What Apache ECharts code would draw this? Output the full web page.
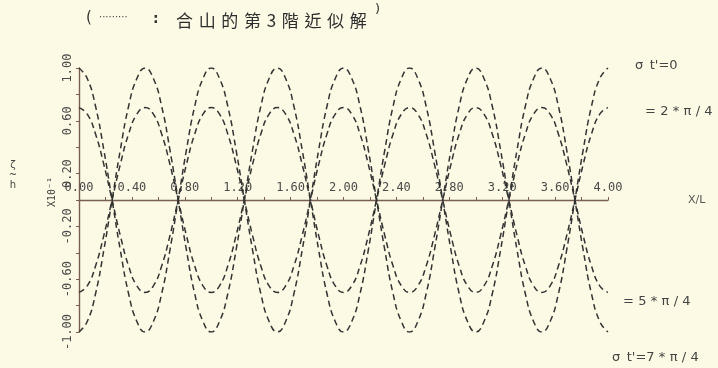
<!DOCTYPE html>
<html>
<head>
<meta charset="utf-8">
<script src="https://cdn.jsdelivr.net/npm/echarts@6/dist/echarts.min.js"></script>
<style>
html,body{margin:0;padding:0;background:#fcf9e4;}
#c{width:718px;height:368px;}
</style>
</head>
<body>
<div id="c"></div>
<script>
// x/L positions
const xs = [0,0.0625,0.125,0.1875,0.25,0.3125,0.375,0.4375,0.5,0.5625,0.625,0.6875,0.75,0.8125,0.875,0.9375,
1,1.0625,1.125,1.1875,1.25,1.3125,1.375,1.4375,1.5,1.5625,1.625,1.6875,1.75,1.8125,1.875,1.9375,
2,2.0625,2.125,2.1875,2.25,2.3125,2.375,2.4375,2.5,2.5625,2.625,2.6875,2.75,2.8125,2.875,2.9375,
3,3.0625,3.125,3.1875,3.25,3.3125,3.375,3.4375,3.5,3.5625,3.625,3.6875,3.75,3.8125,3.875,3.9375,4];

// zeta/h (x10^-1)
const sig0 = [1,0.92,0.71,0.38,0,-0.38,-0.71,-0.92,-1,-0.92,-0.71,-0.38,0,0.38,0.71,0.92,
1,0.92,0.71,0.38,0,-0.38,-0.71,-0.92,-1,-0.92,-0.71,-0.38,0,0.38,0.71,0.92,
1,0.92,0.71,0.38,0,-0.38,-0.71,-0.92,-1,-0.92,-0.71,-0.38,0,0.38,0.71,0.92,
1,0.92,0.71,0.38,0,-0.38,-0.71,-0.92,-1,-0.92,-0.71,-0.38,0,0.38,0.71,0.92,1];
const sig2 = [0.7,0.65,0.5,0.27,0,-0.27,-0.5,-0.65,-0.7,-0.65,-0.5,-0.27,0,0.27,0.5,0.65,
0.7,0.65,0.5,0.27,0,-0.27,-0.5,-0.65,-0.7,-0.65,-0.5,-0.27,0,0.27,0.5,0.65,
0.7,0.65,0.5,0.27,0,-0.27,-0.5,-0.65,-0.7,-0.65,-0.5,-0.27,0,0.27,0.5,0.65,
0.7,0.65,0.5,0.27,0,-0.27,-0.5,-0.65,-0.7,-0.65,-0.5,-0.27,0,0.27,0.5,0.65,0.7];
const sig5 = [-0.7,-0.65,-0.5,-0.27,0,0.27,0.5,0.65,0.7,0.65,0.5,0.27,0,-0.27,-0.5,-0.65,
-0.7,-0.65,-0.5,-0.27,0,0.27,0.5,0.65,0.7,0.65,0.5,0.27,0,-0.27,-0.5,-0.65,
-0.7,-0.65,-0.5,-0.27,0,0.27,0.5,0.65,0.7,0.65,0.5,0.27,0,-0.27,-0.5,-0.65,
-0.7,-0.65,-0.5,-0.27,0,0.27,0.5,0.65,0.7,0.65,0.5,0.27,0,-0.27,-0.5,-0.65,-0.7];
const sig7 = [-1,-0.92,-0.71,-0.38,0,0.38,0.71,0.92,1,0.92,0.71,0.38,0,-0.38,-0.71,-0.92,
-1,-0.92,-0.71,-0.38,0,0.38,0.71,0.92,1,0.92,0.71,0.38,0,-0.38,-0.71,-0.92,
-1,-0.92,-0.71,-0.38,0,0.38,0.71,0.92,1,0.92,0.71,0.38,0,-0.38,-0.71,-0.92,
-1,-0.92,-0.71,-0.38,0,0.38,0.71,0.92,1,0.92,0.71,0.38,0,-0.38,-0.71,-0.92,-1];

const xLabelValues = [0,0.4,0.8,1.2,1.6,2.0,2.4,2.8,3.2,3.6,4.0];
const xTickValues = [0,0.2,0.4,0.6,0.8,1.0,1.2,1.4,1.6,1.8,2.0,2.2,2.4,2.6,2.8,3.0,3.2,3.4,3.6,3.8,4.0];
const yLabelValues = [-1.0,-0.6,-0.2,0.2,0.6,1.0];
const yTickValues = [-1.0,-0.8,-0.6,-0.4,-0.2,0,0.2,0.4,0.6,0.8,1.0];

const seriesNames = ["σt'=0", "=2*π/4", "=5*π/4", "σt'=7*π/4"];
const seriesValues = [sig0, sig2, sig5, sig7];

const chart = echarts.init(document.getElementById('c'), null, {renderer:'canvas'});
const axisColor = '#7a5e52';
const labelFont = {fontFamily:'DejaVu Sans Mono', fontSize:12, color:'#4a4a4a'};
const sp = '\u2004';
const spaced = s => s.split('').join(sp);

const option = {
  backgroundColor:'#fcf9e4',
  animation:false,
  grid:{left:79, right:110, top:68, bottom:36, containLabel:false, outerBoundsMode:'none'},
  xAxis:{
    type:'value', min:0, max:4, position:'bottom', offset:-132,
    axisLine:{onZero:false, lineStyle:{color:axisColor, width:1.4}},
    axisTick:{show:true, inside:true, length:3, customValues:xTickValues, lineStyle:{color:axisColor}},
    axisLabel:Object.assign({inside:true, margin:6, customValues:xLabelValues,
      formatter:v=>v.toFixed(2)}, labelFont),
    splitLine:{show:false},
    name:'X/L', nameLocation:'end', nameGap:80,
    nameTextStyle:{fontFamily:'DejaVu Sans', fontSize:11, color:'#555', verticalAlign:'middle', padding:[0,0,8,0]}
  },
  yAxis:{
    type:'value', min:-1, max:1,
    axisLine:{show:true, onZero:false, lineStyle:{color:axisColor, width:1.4}},
    axisTick:{show:true, length:3, customValues:yTickValues, lineStyle:{color:axisColor}},
    axisLabel:Object.assign({rotate:90, margin:5, customValues:yLabelValues,
      formatter:v=>v.toFixed(2)}, labelFont),
    splitLine:{show:false}
  },
  series: seriesValues.map((vals,i)=>({
    name:seriesNames[i], type:'line', smooth:true, showSymbol:false,
    data: xs.map((x,j)=>[x, vals[j]]),
    lineStyle:{color:'#333333', width:1.5, type:[6,4]}
  })),
  graphic:[
    {type:'text', left:86, top:11, style:{text:'(', font:'15px "DejaVu Sans"', fill:'#333'}},
    {type:'text', left:99, top:12, style:{text:'·········', font:'10px "DejaVu Sans"', fill:'#444'}},
    {type:'text', left:153, top:12, style:{text:':', font:'bold 14px "DejaVu Sans"', fill:'#333'}},
    {type:'text', left:176, top:12, style:{text:spaced('合山的第3階近似解'), font:'17px "Noto Sans CJK TC"', fill:'#2e2e2e'}},
    {type:'text', left:375, top:3, style:{text:')', font:'13px "DejaVu Sans"', fill:'#333'}},
    {type:'text', x:13, y:160, style:{text:'ζ\n~\nh', font:'10px "DejaVu Sans"', lineHeight:10, fill:'#444', align:'center'}},
    {type:'text', x:47, y:207, rotation:Math.PI/2, style:{text:'X10⁻¹', font:'10px "DejaVu Sans Mono"', fill:'#444'}},
    {type:'text', x:635, y:59, style:{text:"σ\u2002t'=0", font:'13px "DejaVu Sans"', fill:'#444'}},
    {type:'text', x:645, y:105, style:{text:spaced('=2*π/4'), font:'13px "DejaVu Sans"', fill:'#444'}},
    {type:'text', x:623, y:295, style:{text:spaced('=5*π/4'), font:'13px "DejaVu Sans"', fill:'#444'}},
    {type:'text', x:612, y:351, style:{text:"σ\u2002t'=" + spaced('7*π/4'), font:'13px "DejaVu Sans"', fill:'#444'}}
  ]
};
chart.setOption(option);
</script>
</body>
</html>
